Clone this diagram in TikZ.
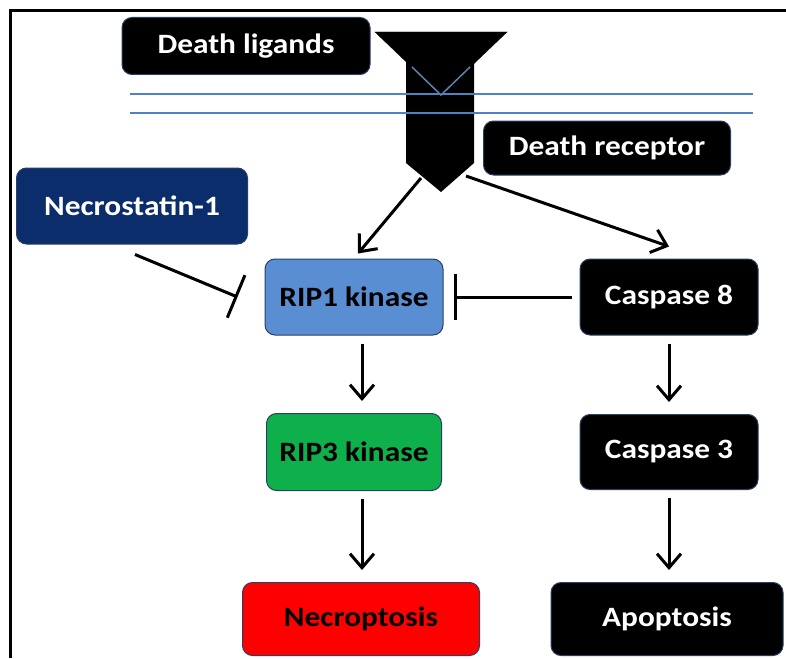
\documentclass[tikz,border=0pt]{standalone}
\usepackage{fontspec}
\setmainfont{Carlito}[BoldFeatures={FakeStretch=1.12}]
\usetikzlibrary{arrows.meta}
\definecolor{navy}{HTML}{0B2D6B}
\definecolor{ripblue}{HTML}{5A8ED3}
\definecolor{ripgreen}{HTML}{0DB04B}
\definecolor{memb}{HTML}{4F81C7}
\definecolor{edge}{HTML}{2A3F66}
\tikzset{
  box/.style={rectangle, rounded corners=10pt, draw=edge, line width=1pt,
    font=\fontsize{28}{32}\selectfont\bfseries, inner sep=0pt},
  darkbox/.style={box, fill=black, text=white},
  arr/.style={line width=3pt, -{Straight Barb[length=14pt,width=24pt,line width=3pt]}},
  inh/.style={line width=3pt, -{Bar[width=46pt,line width=3pt]}},
}
\begin{document}
\begin{tikzpicture}[x=1pt,y=-1pt]
\useasboundingbox (0,0) rectangle (786,658);
\fill[white] (0,0) rectangle (786,658);
% frame
\draw[line width=3pt] (10,658) -- (10,11) -- (786,11);
% membrane
\draw[memb, line width=1.8pt] (130,94) -- (753,94);
\draw[memb, line width=1.8pt] (130,113) -- (753,113);
% receptor
\fill[black] (406,40) -- (474,40) -- (474,163) -- (441,192) -- (406,163) -- cycle;
\draw[memb, line width=1.5pt] (406,94) -- (474,94);
\draw[memb, line width=1.5pt] (406,113) -- (474,113);
\filldraw[fill=black, draw=black] (375,32) -- (507,32) -- (441,95) -- cycle;
\draw[draw=memb!70!gray, line width=1.5pt] (412,67) -- (441,95) -- (470,67);
\coordinate (recL) at (421,178);
\coordinate (recR) at (466,176);
% nodes
\node[darkbox, minimum width=248pt, minimum height=57pt] (lig) at (246,46) {Death ligands};
\node[darkbox, minimum width=247pt, minimum height=54pt] (rec) at (607,148) {Death receptor};
\node[box, fill=navy, text=white, minimum width=231pt, minimum height=76pt] (nec) at (132,206) {Necrostatin-1};
\node[box, fill=ripblue, text=black, minimum width=178pt, minimum height=76pt] (rip1) at (354,297) {RIP1 kinase};
\node[darkbox, minimum width=178pt, minimum height=76pt] (c8) at (669,297) {Caspase 8};
\node[box, fill=ripgreen, text=black, minimum width=175pt, minimum height=77pt] (rip3) at (354,452) {RIP3 kinase};
\node[darkbox, minimum width=178pt, minimum height=75pt] (c3) at (669,452) {Caspase 3};
\node[box, fill=red, text=black, minimum width=237pt, minimum height=73pt] (necro) at (361,619) {Necroptosis};
\node[darkbox, minimum width=232pt, minimum height=73pt] (apo) at (667,619) {Apoptosis};
% connectors
\draw[arr] (recL) -- ([xshift=4pt,yshift=5pt]rip1.north);
\draw[arr] (recR) -- ([yshift=12pt]c8.north);
\draw[inh] ([xshift=3pt,yshift=-10pt]nec.south) -- ([xshift=-27pt]rip1.west);
\draw[inh] ([xshift=-8pt]c8.west) -- ([xshift=10pt]rip1.east);
\draw[arr] ([xshift=8pt,yshift=-8pt]rip1.south) -- ([xshift=8pt,yshift=12pt]rip3.north);
\draw[arr] ([yshift=-8pt]c8.south) -- ([yshift=12pt]c3.north);
\draw[arr] ([xshift=8pt,yshift=-8pt]rip3.south) -- ([xshift=1pt,yshift=12pt]necro.north);
\draw[arr] ([yshift=-8pt]c3.south) -- ([xshift=2pt,yshift=12pt]apo.north);
\end{tikzpicture}
\end{document}
